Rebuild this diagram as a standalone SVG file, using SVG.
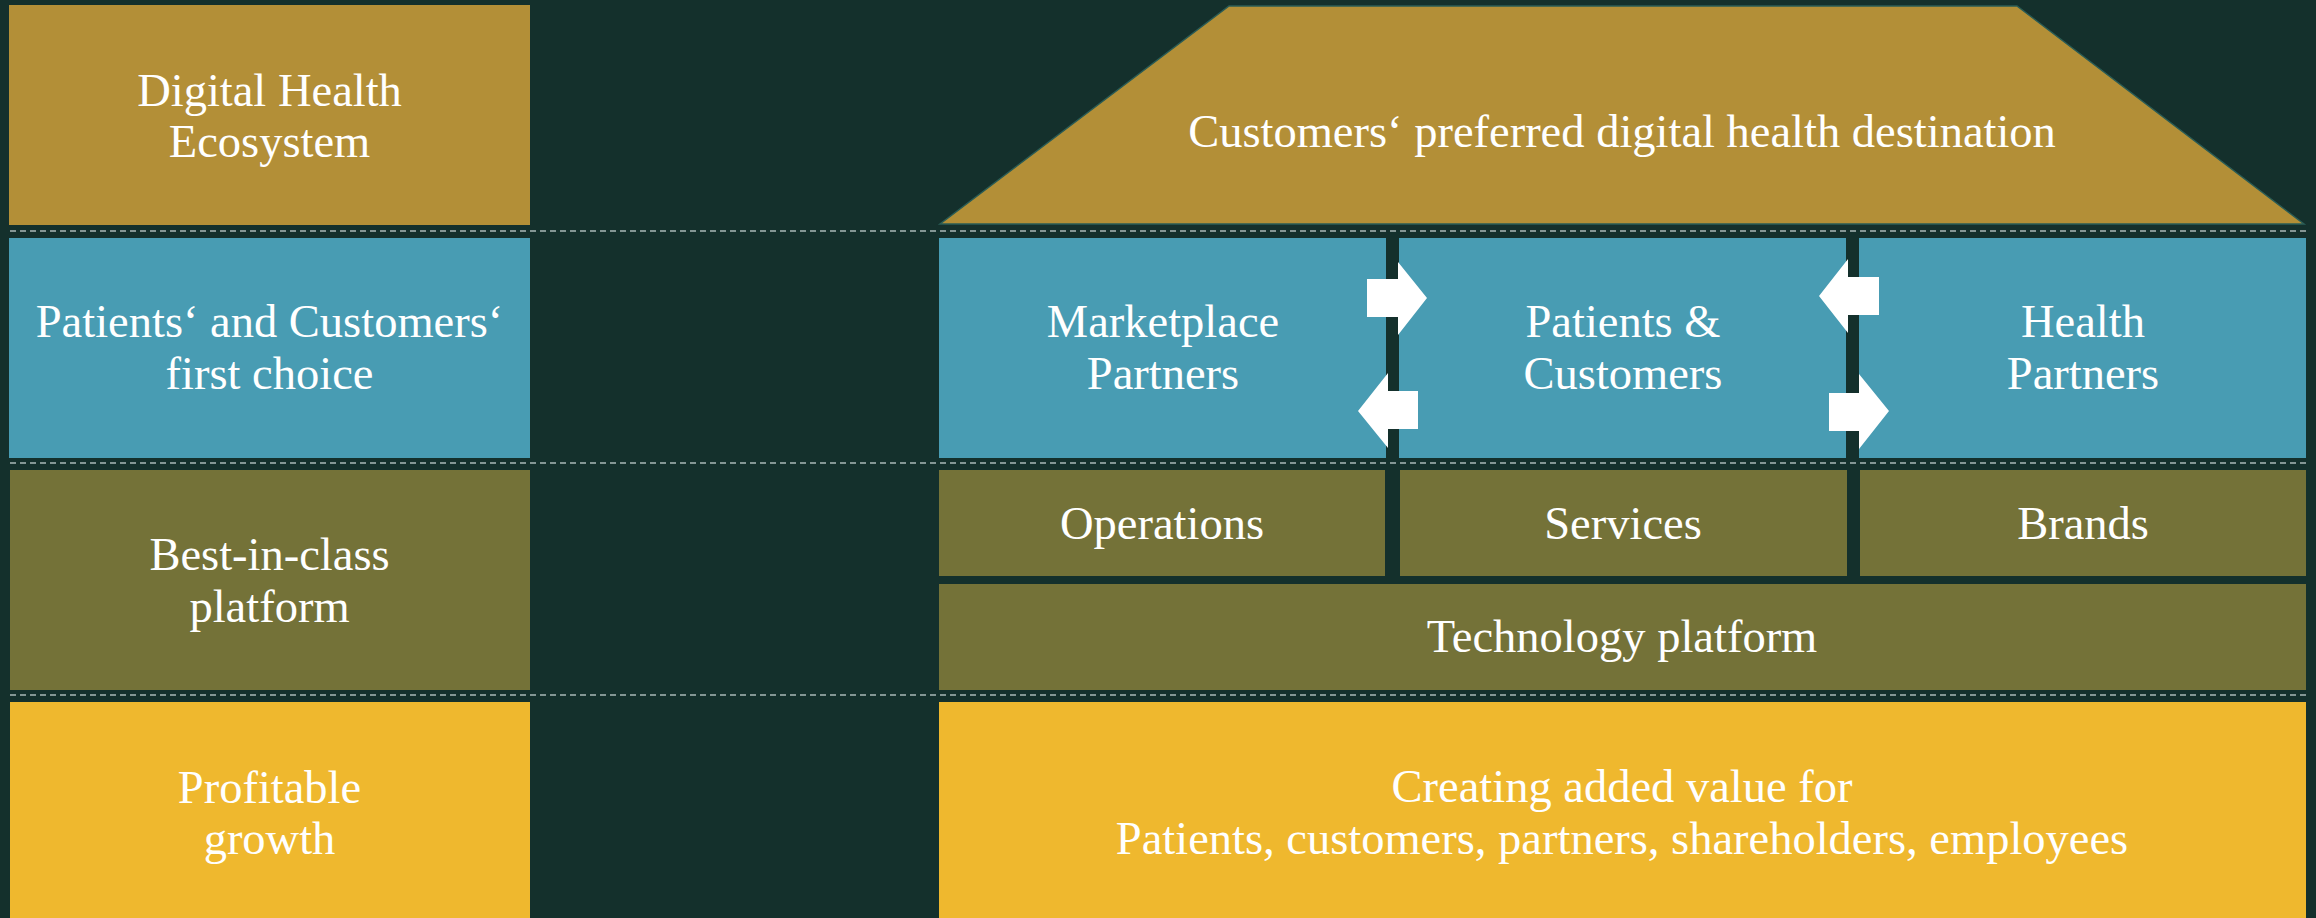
<svg xmlns="http://www.w3.org/2000/svg" width="2316" height="918" viewBox="0 0 2316 918">
<style>
.t{font-family:"Liberation Serif","Times New Roman",serif;font-size:46.5px;fill:#ffffff;text-anchor:middle}
.gold{fill:#b38f37}
.blue{fill:#489cb3}
.olive{fill:#747238}
.yellow{fill:#efb82e}
.dash{stroke:#a9b8b6;stroke-width:1.6;stroke-dasharray:6 4;fill:none}
.arrow{fill:#ffffff}
</style>
<rect x="0" y="0" width="2316" height="918" fill="#14302c"/>
<g id="separators">
<line class="dash" x1="10" y1="231" x2="2310" y2="231"/>
<line class="dash" x1="10" y1="463" x2="2310" y2="463"/>
<line class="dash" x1="10" y1="695" x2="2310" y2="695"/>
</g>
<g id="left-ecosystem"><rect class="gold" x="9" y="5" width="521" height="220"/><text class="t" x="269.5" y="106">Digital Health</text><text class="t" x="269.5" y="157">Ecosystem</text></g>
<g id="left-first-choice"><rect class="blue" x="9" y="238" width="521" height="220"/><text class="t" x="269.5" y="337">Patients‘ and Customers‘</text><text class="t" x="269.5" y="389">first choice</text></g>
<g id="left-platform"><rect class="olive" x="10" y="470" width="520" height="220"/><text class="t" x="269.5" y="570">Best-in-class</text><text class="t" x="269.5" y="622">platform</text></g>
<g id="left-growth"><rect class="yellow" x="10" y="702" width="520" height="216"/><text class="t" x="269.5" y="803">Profitable</text><text class="t" x="269.5" y="854">growth</text></g>
<g id="roof"><polygon class="gold" points="1229,6 2017,6 2304,224 940,224" stroke="#2a5c55" stroke-width="1.5"/><text class="t" x="1622" y="147">Customers‘ preferred digital health destination</text></g>
<g id="marketplace"><rect class="blue" x="939" y="238" width="447" height="220"/><text class="t" x="1163" y="337">Marketplace</text><text class="t" x="1163" y="389">Partners</text></g>
<g id="patients"><rect class="blue" x="1399" y="238" width="447" height="220"/><text class="t" x="1623" y="337">Patients &amp;</text><text class="t" x="1623" y="389">Customers</text></g>
<g id="health-partners"><rect class="blue" x="1859" y="238" width="447" height="220"/><text class="t" x="2083" y="337">Health</text><text class="t" x="2083" y="389">Partners</text></g>
<g id="operations"><rect class="olive" x="939" y="470" width="446" height="106"/><text class="t" x="1162" y="539">Operations</text></g>
<g id="services"><rect class="olive" x="1400" y="470" width="447" height="106"/><text class="t" x="1623" y="539">Services</text></g>
<g id="brands"><rect class="olive" x="1860" y="470" width="446" height="106"/><text class="t" x="2083" y="539">Brands</text></g>
<g id="technology"><rect class="olive" x="939" y="584" width="1367" height="106"/><text class="t" x="1622" y="652">Technology platform</text></g>
<g id="value"><rect class="yellow" x="939" y="702" width="1367" height="216"/><text class="t" x="1622" y="802">Creating added value for</text><text class="t" x="1622" y="854">Patients, customers, partners, shareholders, employees</text></g>
<g id="connectors">
<polygon class="arrow" points="1367,279 1398,279 1398,262 1427,298 1398,335 1398,317 1367,317"/>
<polygon class="arrow" points="1418,391 1388,391 1388,373 1358,411 1388,448 1388,429 1418,429"/>
<polygon class="arrow" points="1879,277 1848,277 1848,259 1819,296 1848,333 1848,315 1879,315"/>
<polygon class="arrow" points="1829,393 1859,393 1859,374 1889,411 1859,449 1859,431 1829,431"/>
</g>
</svg>
